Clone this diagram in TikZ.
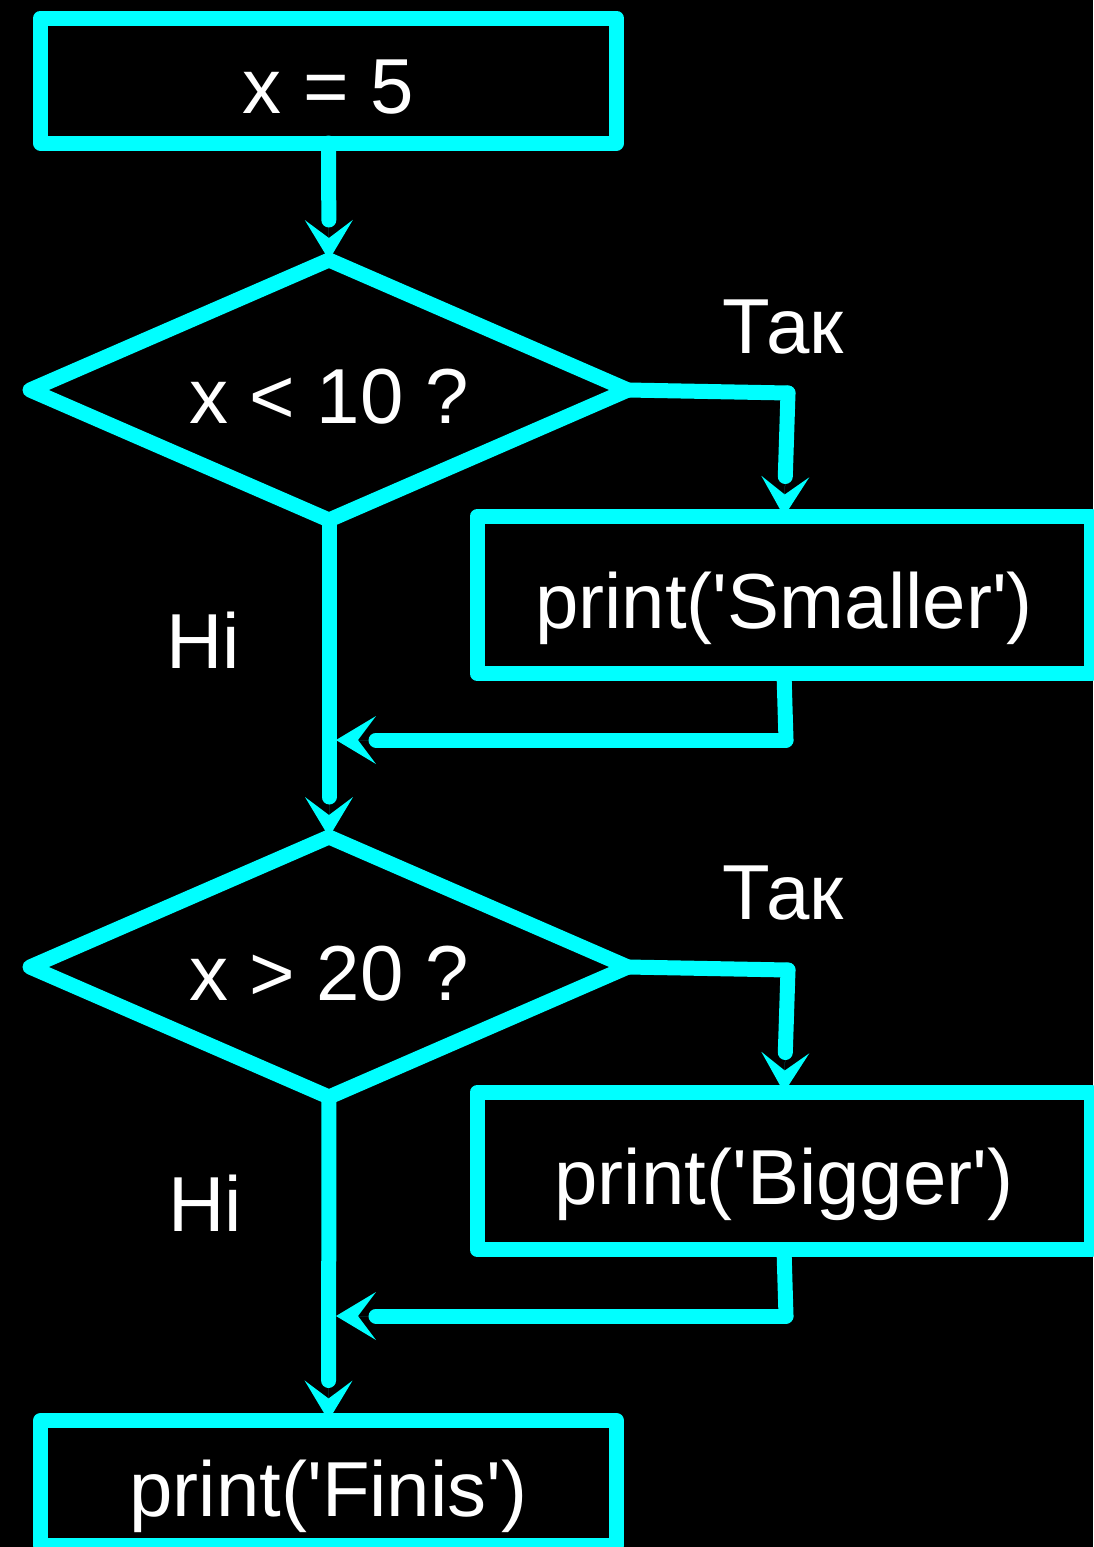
\documentclass[tikz,border=0pt]{standalone}
\usepackage{fontspec}
\setmainfont{Liberation Sans}
\usetikzlibrary{arrows.meta,shapes.geometric}
\definecolor{flowcyan}{RGB}{0,255,255}
\newcommand{\sq}{\textquotesingle}
\begin{document}
\begin{tikzpicture}[x=1pt,y=-1pt,
  every node/.style={font=\fontsize{78}{90}\selectfont, text=white},
  shapebase/.style={draw=flowcyan, line width=15pt, line join=round,
    inner sep=0pt, outer sep=0pt, text height=70pt, text depth=4pt},
  procbox/.style={shapebase, rectangle, minimum width=576pt, minimum height=125pt},
  widebox/.style={shapebase, rectangle, minimum width=614pt, minimum height=157pt},
  decision/.style={shapebase, diamond, aspect=2.3, minimum width=598pt, minimum height=260pt},
  conn/.style={draw=flowcyan, line width=15pt, line cap=round},
  feed/.style={conn, shorten >=40pt},
  headdraw/.style={draw=flowcyan, line width=0.01pt,
    -{Stealth[length=40pt,width=48pt,inset=18pt,line width=0pt]}},
  lbl/.style={anchor=base}
]
\useasboundingbox (0,0) rectangle (1093,1547);
\fill[black] (0,0) rectangle (1093,1547);

% blocks
\node[procbox]  (start) at (328.5,80.5) {x = 5};
\node[decision] (lt)    at (329,390)    {x < 10 ?};
\node[widebox]  (small) at (784,595)    {print(\sq Smaller\sq)};
\node[decision] (gt)    at (329,967)    {x > 20 ?};
\node[widebox]  (big)   at (784,1171)   {print(\sq Bigger\sq)};
\node[procbox]  (fin)   at (328.5,1483) {print(\sq Finis\sq)};

% branch labels
\node[lbl] (yes1) at (783,353)  {Так};
\node[lbl] (no1)  at (203,668)  {Hi};
\node[lbl] (yes2) at (783,919)  {Так};
\node[lbl] (no2)  at (205,1231) {Hi};

% bend points
\coordinate (r1) at (788,393);
\coordinate (j1) at (786,740);
\coordinate (a1) at (336,740);
\coordinate (r2) at (788,970);
\coordinate (j2) at (786,1316);
\coordinate (a2) at (336,1316);

% start -> first test
\draw[feed] (start.south) -- (lt.north);
\draw[headdraw] (start.south) -- (lt.north);

% first test, yes branch
\draw[conn] (lt.east) -- (r1);
\draw[feed] (r1) -- (small.north);
\draw[headdraw] (r1) -- (small.north);
\draw[conn] (small.south) -- (j1);
\draw[feed] (j1) -- (a1);
\draw[headdraw] (j1) -- (a1);

% first test, no branch
\draw[feed] (lt.south) -- (gt.north);
\draw[headdraw] (lt.south) -- (gt.north);

% second test, yes branch
\draw[conn] (gt.east) -- (r2);
\draw[feed] (r2) -- (big.north);
\draw[headdraw] (r2) -- (big.north);
\draw[conn] (big.south) -- (j2);
\draw[feed] (j2) -- (a2);
\draw[headdraw] (j2) -- (a2);

% second test, no branch
\draw[feed] (gt.south) -- (fin.north);
\draw[headdraw] (gt.south) -- (fin.north);
\end{tikzpicture}
\end{document}
